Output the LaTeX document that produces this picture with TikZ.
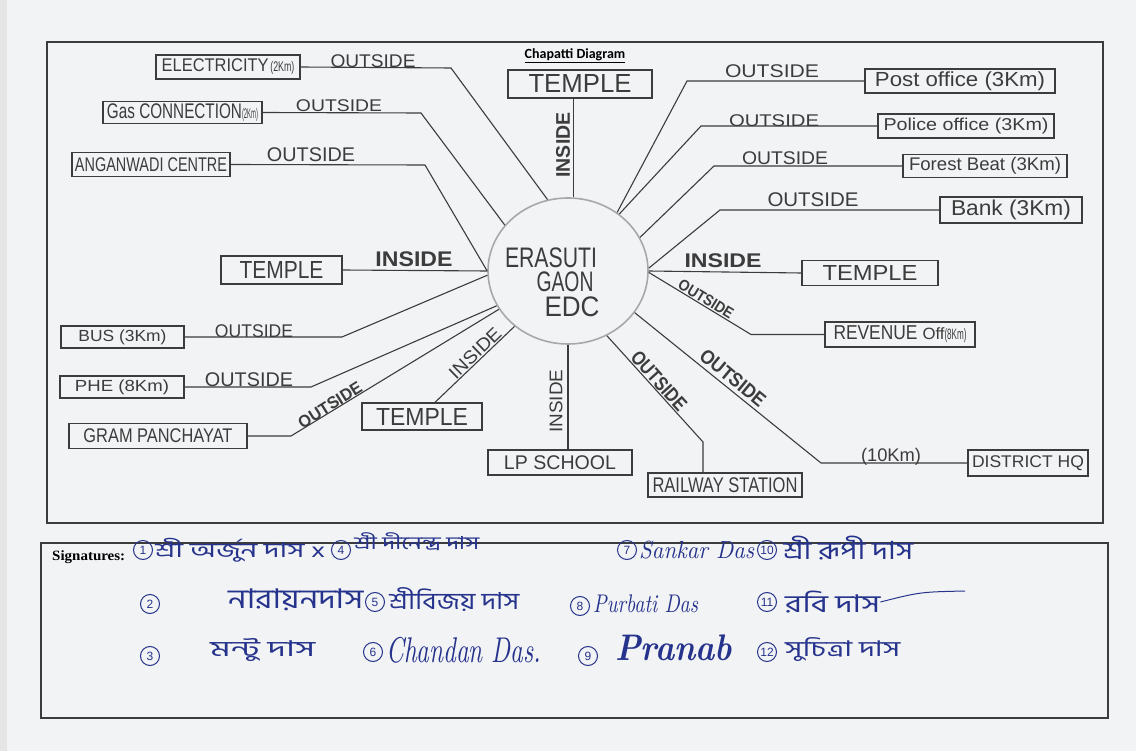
\documentclass[tikz,border=0pt]{standalone}
\usepackage{fontspec}
\usepackage{graphicx}
\usetikzlibrary{shapes.geometric}
\newfontfamily\hs{Liberation Sans}
\newfontfamily\ser{Liberation Serif}
\newfontfamily\calib{Carlito}
\newfontfamily\bn[Script=Bengali]{Hind Siliguri}
\definecolor{paper}{HTML}{F2F3F5}
\definecolor{ink}{HTML}{3C3C3C}
\definecolor{circ}{HTML}{A8A8A8}
\definecolor{pen}{HTML}{26338C}
\newcommand{\fit}[3]{\resizebox*{#1pt}{#2pt}{\hs #3}}
\newcommand{\fitb}[3]{\resizebox*{#1pt}{#2pt}{\hs\bfseries #3}}
\newcommand{\fbn}[3]{\resizebox*{#1pt}{#2pt}{\bn #3}}
\tikzset{
  box/.style={draw=ink, line width=1.3pt, inner sep=0pt, text=ink},
  conn/.style={draw=ink, line width=1.1pt},
  lab/.style={text=ink, inner sep=0pt},
  frame/.style={draw=ink, line width=1.1pt},
  sig/.style={text=pen, inner sep=0pt, anchor=west},
  num/.style={circle, draw=pen, line width=1pt, minimum size=19pt, inner sep=0pt,
    text=pen, anchor=west, font=\hs\fontsize{12}{12}\selectfont}
}
\begin{document}
\begin{tikzpicture}[x=1pt,y=-1pt]
\fill[paper] (0,0) rectangle (1136,751);
\fill[black!10] (0,0) rectangle (7,751);
\useasboundingbox (0,0) rectangle (1136,751);
\draw[frame] (47,42) rectangle (1103,523);
\draw[frame] (41,543) rectangle (1108,718);

\node[lab, text=black] (title) at (575,56) {\underline{\calib\bfseries\fontsize{14}{14}\selectfont Chapatti Diagram}};

% centre
\node[ellipse, draw=circ, line width=1.6pt, minimum width=160pt, minimum height=146pt, inner sep=0pt] (c) at (568,271) {};
\node[lab] (t1) at (551,258) {\fit{92}{20}{ERASUTI}};
\node[lab] (t2) at (565,282) {\fit{57}{20}{GAON}};
\node[lab] (t3) at (572,307) {\fit{55}{20}{EDC}};

% boxes
\node[box, minimum width=144pt, minimum height=24pt] (elec) at (228,67) {\fit{107}{13}{ELECTRICITY}\,\fit{24}{13}{(2Km)}};
\node[box, minimum width=159pt, minimum height=22pt] (gas) at (182.5,112.5) {\fit{135}{15}{Gas CONNECTION}\fit{16}{13}{(2Km)}};
\node[box, minimum width=158pt, minimum height=24pt] (ang) at (151,164.5) {\fit{152}{14}{ANGANWADI CENTRE}};
\node[box, minimum width=121pt, minimum height=28pt] (tL) at (281.5,270) {\fit{84}{17}{TEMPLE}};
\node[box, minimum width=123pt, minimum height=22pt] (bus) at (122.5,337) {\fit{88}{15}{BUS (3Km)}};
\node[box, minimum width=124pt, minimum height=22pt] (phe) at (122,387) {\fit{94}{15}{PHE (8Km)}};
\node[box, minimum width=178pt, minimum height=25pt] (gp) at (158,436) {\fit{149}{14}{GRAM PANCHAYAT}};
\node[box, minimum width=120pt, minimum height=27pt] (tBL) at (422,416.5) {\fit{92}{17}{TEMPLE}};
\node[box, minimum width=144pt, minimum height=25pt] (lp) at (560,462.5) {\fit{112}{14}{LP SCHOOL}};
\node[box, minimum width=154pt, minimum height=24pt] (rail) at (725,485) {\fit{145}{15}{RAILWAY STATION}};
\node[box, minimum width=120pt, minimum height=26pt] (dist) at (1028,463) {\fit{112}{15}{DISTRICT HQ}};
\node[box, minimum width=150pt, minimum height=25pt] (rev) at (900,334.5) {\fit{84}{14}{REVENUE}\hspace{5pt}\fit{22}{12}{Off}\fit{22}{14}{(8Km)}};
\node[box, minimum width=136pt, minimum height=25pt] (tR) at (870,273) {\fit{95}{15}{TEMPLE}};
\node[box, minimum width=142pt, minimum height=26pt] (bank) at (1011,210) {\fit{120}{20}{Bank (3Km)}};
\node[box, minimum width=164pt, minimum height=23pt] (forest) at (985,166) {\fit{152}{17}{Forest Beat (3Km)}};
\node[box, minimum width=176pt, minimum height=24pt] (police) at (966,126) {\fit{165}{16}{Police office (3Km)}};
\node[box, minimum width=190pt, minimum height=24pt] (post) at (960,81) {\fit{170}{19}{Post office (3Km)}};
\node[box, minimum width=144pt, minimum height=28pt] (tT) at (580,84) {\fit{103}{18}{TEMPLE}};

% bends
\coordinate (eB) at (451,68);
\coordinate (gB) at (421,113);
\coordinate (aB) at (425,165);
\coordinate (bB) at (342,337);
\coordinate (pB) at (311,387);
\coordinate (gpB) at (291,436);
\coordinate (rB) at (703,442);
\coordinate (dB) at (821,463);
\coordinate (rvB) at (751,334.5);
\coordinate (poB) at (687,81);
\coordinate (plB) at (701,126);
\coordinate (fB) at (714,166);
\coordinate (bkB) at (720,210);

% connectors
\draw[conn] (elec.east) -- (eB) -- (c.106);
\draw[conn] (gas.east) -- (gB) -- (c.144);
\draw[conn] (ang.east) -- (aB) -- (c.180);
\draw[conn] (tL.east) -- (c.180);
\draw[conn] (bus.east) -- (bB) -- (c.183);
\draw[conn] (phe.east) -- (pB) -- (c.206);
\draw[conn] (gp.east) -- (gpB) -- (c.209);
\draw[conn] ([xshift=13pt]tBL.north) -- (c.226);
\draw[conn] (c.270) -- (c.270 |- lp.north);
\draw[conn] (c.301) -- (rB) -- (rB |- rail.north);
\draw[conn] (c.328) -- (dB) -- (dist.west);
\draw[conn] (c.359) -- (rvB) -- (rev.west);
\draw[conn] (c.0) -- (tR.west);
\draw[conn] (c.2) -- (bkB) -- (bank.west);
\draw[conn] (c.25) -- (fB) -- (forest.west);
\draw[conn] (c.48) -- (plB) -- (police.west);
\draw[conn] (c.50) -- (poB) -- (post.west);
\draw[conn] (c.86) -- (c.86 |- tT.south);

% labels
\node[lab] (o1) at (373,61) {\fit{85}{13}{OUTSIDE}};
\node[lab] (o2) at (339,106) {\fit{86}{12}{OUTSIDE}};
\node[lab] (o3) at (311,155) {\fit{88}{14}{OUTSIDE}};
\node[lab] (iL) at (414,259) {\fitb{77}{15}{INSIDE}};
\node[lab] (o4) at (254,331) {\fit{78}{13}{OUTSIDE}};
\node[lab] (o5) at (249,380) {\fit{88}{14}{OUTSIDE}};
\node[lab, rotate=32] (o6) at (330,405) {\fitb{72}{12}{OUTSIDE}};
\node[lab, rotate=44] (iBL) at (475,353) {\fit{65}{13}{INSIDE}};
\node[lab, rotate=90] (iLP) at (556,401) {\fit{63}{13}{INSIDE}};
\node[lab, rotate=90] (iT) at (563,145) {\fitb{65}{14}{INSIDE}};
\node[lab] (iR) at (723,261) {\fitb{77}{14}{INSIDE}};
\node[lab, rotate=-31.5] (o7) at (706,299) {\fitb{62}{11}{OUTSIDE}};
\node[lab, rotate=-39.6] (o8) at (733,378) {\fitb{79}{14}{OUTSIDE}};
\node[lab, rotate=-48] (o9) at (659,381) {\fitb{73}{14}{OUTSIDE}};
\node[lab] (km10) at (891,457) {\fit{60}{17}{(10Km)}};
\node[lab] (o10) at (772,71) {\fit{94}{13}{OUTSIDE}};
\node[lab] (o11) at (774,121) {\fit{90}{12}{OUTSIDE}};
\node[lab] (o12) at (785,158) {\fit{86}{13}{OUTSIDE}};
\node[lab] (o13) at (813,200) {\fit{91}{14}{OUTSIDE}};

% signatures
\node[lab, anchor=west, text=black] (sg) at (52,557) {\resizebox*{73pt}{13pt}{\ser\bfseries Signatures:}};
\node[num] (n1) at (133,550) {1};
\node[sig] (s1) at (155,550) {\fbn{170}{24}{শ্রী অর্জুন দাস x}};
\node[num] (n4) at (331,550) {4};
\node[sig] (s4) at (354,542) {\fbn{125}{18}{শ্রী দীনেন্দ্র দাস}};
\node[num] (n7) at (617,550) {7};
\node[sig] (s7) at (639,550) {\resizebox*{115pt}{18pt}{\itshape Sankar Das}};
\node[num] (n10) at (757,550) {10};
\node[sig] (s10) at (783,548) {\fbn{130}{24}{শ্রী রূপী দাস}};

\node[num] (n2) at (140,604) {2};
\node[sig] (s2) at (228,600) {\fbn{135}{22}{নারায়নদাস}};
\node[num] (n5) at (365,602) {5};
\node[sig] (s5) at (389,600) {\fbn{130}{24}{শ্রীবিজয় দাস}};
\node[num] (n8) at (570,606) {8};
\node[sig] (s8) at (593,604) {\resizebox*{105pt}{18pt}{\itshape Purbati Das}};
\node[num] (n11) at (757,602) {11};
\node[sig] (s11) at (785,602) {\fbn{95}{22}{রবি দাস}};
\draw[pen, line width=1pt] (s11.east) .. controls (920,592) .. (965,591);

\node[num] (n3) at (140,656) {3};
\node[sig] (s3) at (210,650) {\fbn{105}{24}{মন্টু দাস}};
\node[num] (n6) at (363,652) {6};
\node[sig] (s6) at (386,650) {\resizebox*{155pt}{26pt}{\itshape Chandan Das.}};
\node[num] (n9) at (578,656) {9};
\node[sig] (s9) at (615,648) {\resizebox*{117pt}{26pt}{\bfseries\itshape Pranab}};
\node[num] (n12) at (757,652) {12};
\node[sig] (s12) at (785,650) {\fbn{115}{24}{সুচিত্রা দাস}};
\end{tikzpicture}
\end{document}
